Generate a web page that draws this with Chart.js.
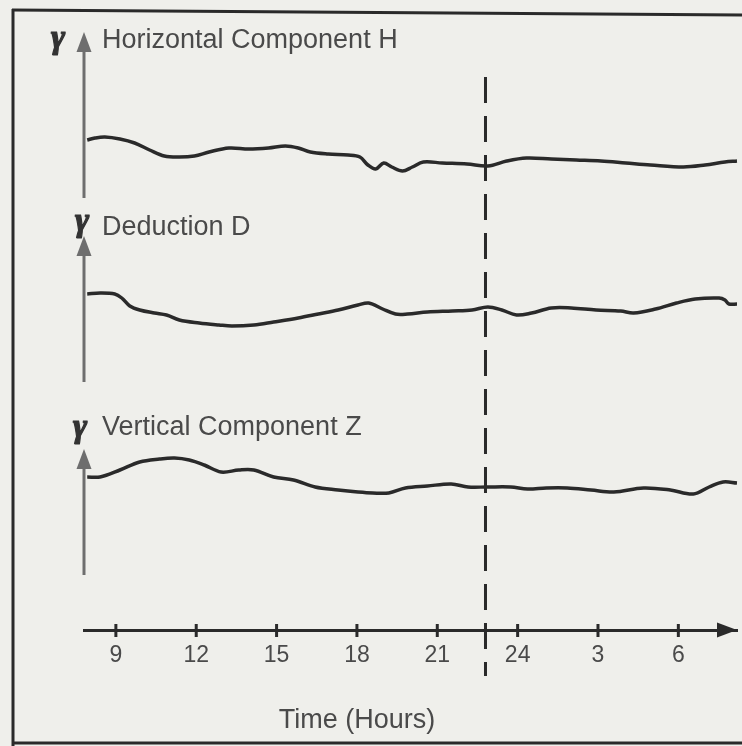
<!DOCTYPE html>
<html><head><meta charset="utf-8">
<script src="https://cdn.jsdelivr.net/npm/chart.js@4.4.1/dist/chart.umd.min.js"></script>
<style>html,body{margin:0;padding:0;background:#efefeb;}canvas{display:block;}</style>
</head><body>
<canvas id="c" width="742" height="746"></canvas>
<script>
// ---- data (hours on the time axis; deflection in relative units, up = positive) ----
const hoursH = [7.93,8.22,8.59,9.15,9.70,10.26,10.81,11.37,11.93,12.48,13.22,13.96,14.70,15.33,15.81,16.26,16.93,17.67,18.11,18.41,18.70,19.00,19.30,19.70,20.07,20.48,21.19,22.11,22.89,23.59,24.33,25.26,26.19,27.11,28.04,28.96,30.19,31.00,31.74,32.19];
const valuesH = [0,2,3,1,-3,-10,-16,-17,-16,-12,-8,-9,-8,-6,-8,-12,-14,-15,-17,-25,-29,-23,-27,-31,-27,-22,-23,-24,-26,-21,-18,-19,-20,-21,-23,-25,-27,-25,-22,-21];
const hoursD = [7.93,8.41,8.96,9.22,9.52,9.89,10.44,10.89,11.37,12.11,12.85,13.33,14.15,14.89,15.81,16.56,17.30,18.04,18.44,18.96,19.44,19.89,20.63,21.56,22.30,22.89,23.41,23.96,24.52,25.26,26.00,26.93,27.85,28.33,29.15,29.93,30.63,31.52,31.74,31.89,32.19];
const valuesD = [0,1,0,-4,-12,-16,-19,-21,-26,-29,-31,-32,-31,-28,-24,-20,-16,-11,-9,-15,-20,-20,-18,-17,-16,-13,-16,-21,-19,-14,-14,-16,-17,-19,-15,-9,-5,-4,-6,-10,-10];
const hoursZ = [7.93,8.41,9.15,9.89,10.63,11.19,11.74,12.30,12.93,13.59,14.15,14.89,15.63,16.44,17.30,18.04,18.59,19.19,19.81,20.63,21.52,22.15,22.85,23.74,24.37,25.07,25.85,26.74,27.59,28.70,29.70,30.56,31.15,31.67,32.19];
const valuesZ = [0,0,7,15,18,19,17,12,5,7,7,0,-3,-10,-13,-15,-16,-16,-11,-9,-7,-10,-10,-10,-12,-11,-11,-13,-15,-11,-13,-17,-10,-5,-6];

const componentLabels = ['Horizontal Component H', 'Deduction D', 'Vertical Component Z'];
const unitSymbol = 'γ';
const tickHours = [9, 12, 15, 18, 21, 24, 27, 30];
const tickLabels = ['9', '12', '15', '18', '21', '24', '3', '6'];
const axisTitle = 'Time (Hours)';
const titleHour = 18;
const midnightHour = 22.8;
const xRange = [7.81, 32.19];
const rangeH = [-70, 110];
const rangeD = [-111, 84];
const rangeZ = [-153, 72];

const pts = (h, v) => h.map((x, i) => ({x, y: v[i]}));
const INK = '#2a2a2a', GREY = '#6e6e6e', TXT = '#4a4a4a';

// per-section decoration (offsets from each stacked axis top)
const sections = [
  {axis: 'yH', tip: 2,  end: 168, gx: -26, gy: 9,  ly: 11},
  {axis: 'yD', tip: 26, end: 172, gx: -2,  gy: 12, ly: 18},
  {axis: 'yZ', tip: 44, end: 170, gx: -4,  gy: 23, ly: 23}
];

const deco = {
  id: 'deco',
  beforeDraw(chart) {
    const ctx = chart.ctx;
    ctx.save();
    ctx.fillStyle = '#efefeb';
    ctx.fillRect(0, 0, chart.width, chart.height);
    ctx.strokeStyle = '#2a2a2a'; ctx.lineWidth = 3;
    ctx.beginPath(); ctx.moveTo(13, 9); ctx.lineTo(13, 746); ctx.stroke();
    ctx.beginPath(); ctx.moveTo(12, 10); ctx.lineTo(742, 15); ctx.stroke();
    ctx.beginPath(); ctx.moveTo(12, 743); ctx.lineTo(742, 743); ctx.stroke();
    ctx.restore();
  },
  afterDraw(chart) {
    const ctx = chart.ctx, xs = chart.scales.x;
    ctx.save();
    // vertical arrows + labels
    sections.forEach((s, i) => {
      const sc = chart.scales[s.axis];
      const x = xs.left;
      const top = sc.top + s.tip, bottom = sc.top + s.end;
      ctx.strokeStyle = GREY; ctx.fillStyle = GREY; ctx.lineWidth = 3;
      ctx.beginPath(); ctx.moveTo(x, top + 14); ctx.lineTo(x, bottom); ctx.stroke();
      ctx.beginPath(); ctx.moveTo(x, top); ctx.lineTo(x - 7.5, top + 20); ctx.lineTo(x + 7.5, top + 20); ctx.closePath(); ctx.fill();
      ctx.fillStyle = '#333'; ctx.strokeStyle = '#333'; ctx.lineWidth = 1.2;
      ctx.font = 'bold italic 34px "Liberation Serif"';
      ctx.textAlign = 'center'; ctx.textBaseline = 'middle';
      ctx.fillText(unitSymbol, x + s.gx, sc.top + s.gy);
      ctx.strokeText(unitSymbol, x + s.gx, sc.top + s.gy);
      ctx.fillStyle = TXT;
      ctx.font = '27px "Liberation Sans"';
      ctx.textAlign = 'left';
      ctx.fillText(componentLabels[i], 102, sc.top + s.ly);
    });
    // tick marks crossing the axis
    const ay = xs.top;
    ctx.strokeStyle = INK; ctx.lineWidth = 3;
    xs.ticks.forEach(t => {
      const px = xs.getPixelForValue(t.value);
      ctx.beginPath(); ctx.moveTo(px, ay - 6); ctx.lineTo(px, ay + 7); ctx.stroke();
    });
    // arrow head at the end of the time axis
    ctx.fillStyle = INK;
    ctx.beginPath(); ctx.moveTo(xs.right, ay); ctx.lineTo(xs.right - 20, ay - 7.5); ctx.lineTo(xs.right - 20, ay + 7.5); ctx.closePath(); ctx.fill();
    // dashed midnight marker
    const mx = xs.getPixelForValue(midnightHour);
    ctx.setLineDash([26, 13]);
    ctx.beginPath(); ctx.moveTo(mx, 77); ctx.lineTo(mx, 676); ctx.stroke();
    ctx.setLineDash([]);
    // axis title
    ctx.fillStyle = TXT;
    ctx.font = '27px "Liberation Sans"';
    ctx.textAlign = 'center'; ctx.textBaseline = 'middle';
    ctx.fillText(axisTitle, xs.getPixelForValue(titleHour), 721);
    ctx.restore();
  }
};

const lineStyle = {borderColor: INK, borderWidth: 3.5, pointRadius: 0, tension: 0.35, fill: false,
  clip: {left: 5, top: 5, right: 5, bottom: 5}};

const hiddenY = (range, weight, stackWeight) => ({
  type: 'linear', position: 'left', stack: 'comp', stackWeight, weight,
  min: range[0], max: range[1], offset: false,
  grid: {display: false, drawTicks: false}, border: {display: false},
  ticks: {display: false}, title: {display: false},
  afterFit: s => { s.width = 0; }
});

new Chart(document.getElementById('c'), {
  type: 'line',
  data: {
    datasets: [
      {label: componentLabels[0], data: pts(hoursH, valuesH), yAxisID: 'yH', ...lineStyle},
      {label: componentLabels[1], data: pts(hoursD, valuesD), yAxisID: 'yD', ...lineStyle},
      {label: componentLabels[2], data: pts(hoursZ, valuesZ), yAxisID: 'yZ', ...lineStyle}
    ]
  },
  options: {
    responsive: false, animation: false,
    layout: {padding: {top: 30, left: 84, right: 5, bottom: 0}},
    plugins: {legend: {display: false}, tooltip: {enabled: false}},
    scales: {
      x: {
        type: 'linear', position: 'bottom', min: xRange[0], max: xRange[1],
        grid: {display: false, drawTicks: false},
        border: {display: true, color: INK, width: 3},
        afterBuildTicks: s => { s.ticks = tickHours.map(v => ({value: v})); },
        afterFit: s => { s.height = 116; },
        ticks: {
          autoSkip: false, maxRotation: 0, padding: 12, color: TXT,
          font: {family: '"Liberation Sans"', size: 23},
          callback: (v, i) => tickLabels[i]
        }
      },
      yH: hiddenY(rangeH, 3, 180),
      yD: hiddenY(rangeD, 2, 195),
      yZ: hiddenY(rangeZ, 1, 225)
    }
  },
  plugins: [deco]
});
</script>
</body></html>
